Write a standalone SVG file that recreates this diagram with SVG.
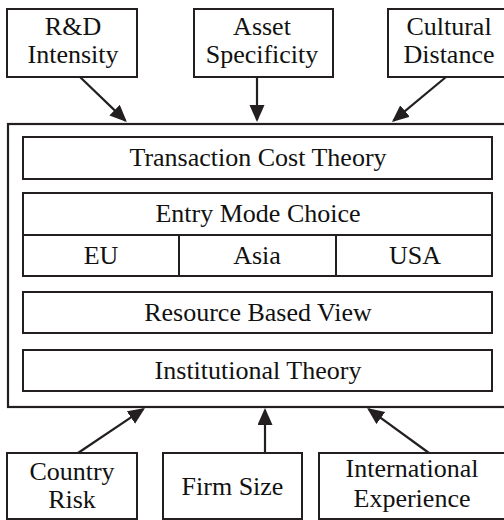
<svg xmlns="http://www.w3.org/2000/svg" width="504" height="520" viewBox="0 0 504 520">
<style>
.box{fill:#fff;stroke:#231f20;stroke-width:2}
.outer{fill:#fff;stroke:#231f20;stroke-width:2.2}
text{font-family:'Liberation Serif','Times New Roman',Times,'DejaVu Serif',serif;font-size:26px;fill:#111;text-anchor:middle}
.c{stroke:#231f20;stroke-width:2.2;fill:none;marker-end:url(#ah)}
</style>
<defs>
<marker id="ah" markerUnits="userSpaceOnUse" markerWidth="18" markerHeight="16" refX="15" refY="7.5" orient="auto">
<path d="M0,0 L17,7.5 L0,15 z" fill="#231f20"/>
</marker>
</defs>
<rect width="504" height="520" fill="#fff"/>
<g id="framework" font-family="Liberation Serif, serif">
<rect class="outer" x="8" y="124" width="502" height="283"/>
<g id="transaction-cost-theory">
<rect class="box" x="23" y="137" width="469" height="42"/>
<text x="258" y="166">Transaction Cost Theory</text>
</g>
<g id="entry-mode-choice">
<rect class="box" x="23" y="193" width="469" height="83"/>
<line class="box" x1="23" y1="235" x2="492" y2="235"/>
<line class="box" x1="179" y1="235" x2="179" y2="276"/>
<line class="box" x1="336" y1="235" x2="336" y2="276"/>
<text x="258" y="222">Entry Mode Choice</text>
</g>
<g id="eu"><text x="101" y="264">EU</text></g>
<g id="asia"><text x="257" y="264">Asia</text></g>
<g id="usa"><text x="415" y="264">USA</text></g>
<g id="resource-based-view">
<rect class="box" x="23" y="292" width="469" height="41"/>
<text x="258" y="321">Resource Based View</text>
</g>
<g id="institutional-theory">
<rect class="box" x="23" y="350" width="469" height="41"/>
<text x="258" y="379">Institutional Theory</text>
</g>
</g>
<g id="rd-intensity">
<rect class="box" x="7" y="9" width="130" height="68"/>
<text x="73" y="35">R&amp;D</text>
<text x="73" y="63">Intensity</text>
</g>
<g id="asset-specificity">
<rect class="box" x="194" y="9" width="139" height="68"/>
<text x="262" y="35">Asset</text>
<text x="262" y="63">Specificity</text>
</g>
<g id="cultural-distance">
<rect class="box" x="388" y="9" width="124" height="68"/>
<text x="449" y="35">Cultural</text>
<text x="449" y="63">Distance</text>
</g>
<g id="country-risk">
<rect class="box" x="7" y="453" width="130" height="66"/>
<text x="72" y="480">Country</text>
<text x="72" y="508">Risk</text>
</g>
<g id="firm-size">
<rect class="box" x="163" y="453" width="139" height="66"/>
<text x="232.5" y="495">Firm Size</text>
</g>
<g id="international-experience">
<rect class="box" x="319" y="453" width="188" height="66"/>
<text x="412" y="477">International</text>
<text x="412" y="507">Experience</text>
</g>
<g id="connectors">
<line class="c" x1="80" y1="77" x2="125.4" y2="120.6"/>
<line class="c" x1="257" y1="77" x2="257" y2="120"/>
<line class="c" x1="446" y1="77" x2="393.5" y2="120.7"/>
<line class="c" x1="78" y1="453" x2="143.3" y2="409.1"/>
<line class="c" x1="265" y1="453" x2="265" y2="410"/>
<line class="c" x1="429" y1="453" x2="368.7" y2="409.2"/>
</g>
</svg>
